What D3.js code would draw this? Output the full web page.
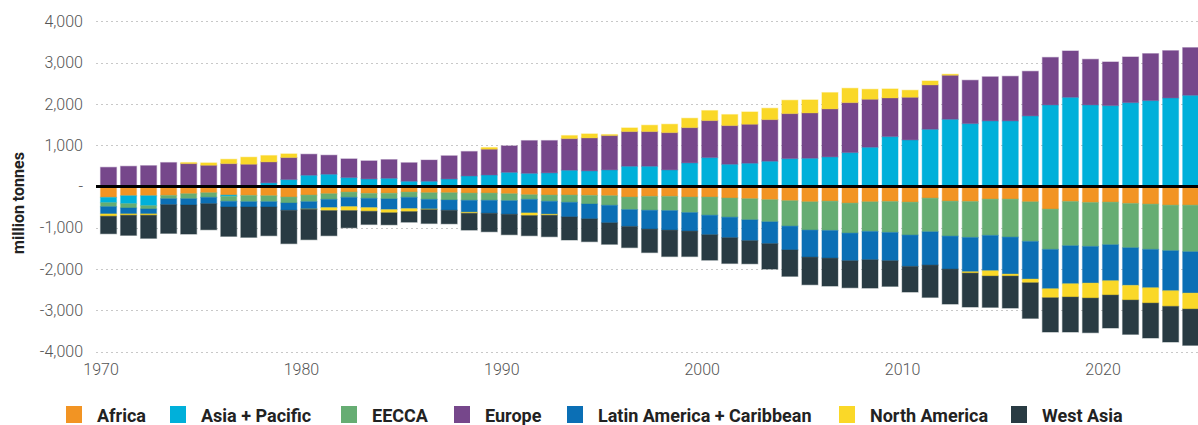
<!DOCTYPE html>
<html>
<head>
<meta charset="utf-8">
<script src="https://cdn.jsdelivr.net/npm/d3@7"></script>
<style>
  html, body { margin: 0; padding: 0; background: #fff; }
  svg { display: block; font-family: Roboto, "Noto Sans", sans-serif; }
</style>
</head>
<body>
<svg id="chart" width="1198" height="425"></svg>
<script>
const years = [1970,1971,1972,1973,1974,1975,1976,1977,1978,1979,
  1980,1981,1982,1983,1984,1985,1986,1987,1988,1989,
  1990,1991,1992,1993,1994,1995,1996,1997,1998,1999,
  2000,2001,2002,2003,2004,2005,2006,2007,2008,2009,
  2010,2011,2012,2013,2014,2015,2016,2017,2018,2019,
  2020,2021,2022,2023,2024];

const africa = [-264,-224,-224,-216,-176,-152,-208,-216,-224,-256,
  -208,-176,-136,-168,-164,-136,-152,-152,-160,-160,
  -176,-200,-208,-208,-216,-224,-256,-240,-240,-256,
  -256,-280,-296,-320,-344,-371,-355,-403,-371,-363,
  -379,-282,-355,-363,-306,-306,-371,-548,-363,-387,
  -379,-411,-427,-452,-452];
const asiaPacific = [-128,-192,-240,0,0,0,-32,0,89,169,
  274,298,218,185,200,128,128,184,256,280,
  344,320,331,395,379,403,492,492,403,573,
  702,540,565,613,677,685,718,823,952,1210,
  1129,1387,1629,1524,1589,1589,1710,1976,2161,1976,
  1960,2032,2081,2145,2210];
const eecca = [-96,-104,-80,-80,-120,-112,-120,-152,-144,-144,
  -160,-136,-128,-120,-136,-128,-160,-176,-176,-176,
  -168,-112,-152,-176,-208,-232,-304,-336,-344,-376,
  -440,-464,-512,-536,-616,-685,-710,-726,-718,-750,
  -798,-815,-847,-871,-879,-920,-960,-976,-1072,-1065,
  -1032,-1073,-1097,-1104,-1129];
const europe = [465,490,505,580,555,515,555,540,508,533,
  508,460,451,436,451,448,512,560,592,624,
  640,792,782,766,798,831,839,839,903,854,
  895,936,943,1008,1089,1097,1161,1209,1161,935,
  1032,1073,1065,1049,1068,1080,1080,1150,1121,1105,
  1056,1105,1137,1145,1153];
const latinAmerica = [-176,-144,-120,-144,-152,-152,-136,-128,-128,-176,
  -176,-200,-224,-224,-260,-272,-232,-248,-288,-312,
  -328,-328,-312,-352,-360,-424,-408,-456,-472,-448,
  -472,-496,-504,-528,-576,-654,-669,-669,-685,-685,
  -758,-806,-798,-831,-855,-895,-911,-952,-920,-887,
  -871,-911,-928,-968,-1000];
const northAmerica = [-56,-32,-32,0,25,57,105,170,153,88,
  -8,-72,-96,-88,-76,-72,-16,0,-24,40,
  0,-64,-24,73,97,24,88,153,202,226,
  242,266,298,274,323,315,395,347,242,218,
  170,96,24,-32,-129,-48,-89,-218,-322,-363,
  -347,-355,-371,-379,-387];
const westAsia = [-424,-488,-560,-696,-704,-632,-712,-736,-696,-808,
  -736,-608,-416,-320,-292,-256,-336,-328,-408,-448,
  -496,-488,-520,-560,-552,-520,-512,-568,-640,-616,
  -616,-624,-560,-616,-640,-669,-677,-654,-686,-621,
  -621,-783,-847,-822,-758,-775,-863,-830,-847,-838,
  -798,-831,-846,-863,-879];

const seriesNames = ["Africa","Asia + Pacific","EECCA","Europe","Latin America + Caribbean","North America","West Asia"];
const seriesValues = [africa, asiaPacific, eecca, europe, latinAmerica, northAmerica, westAsia];
const seriesColors = ["#F29423","#00B0DA","#66AD73","#76478B","#0B6FB5","#FAD828","#293B43"];
const yTicks = [-4000,-3000,-2000,-1000,0,1000,2000,3000,4000];
const xTicks = [1970,1980,1990,2000,2010,2020];

const rows = years.map((yr, i) => {
  const r = { year: yr };
  seriesNames.forEach((n, k) => r[n] = seriesValues[k][i]);
  return r;
});

const svg = d3.select("#chart");
const W = 1198, H = 425;
const plotLeft = 96, plotRight = 1198;

const x = d3.scaleLinear().domain([1970, 2020]).range([100.5, 1102.5]);
const barW = 16;
const y = d3.scaleLinear().domain([-4000, 4000]).range([351.7, 21.3]);
const color = d3.scaleOrdinal().domain(seriesNames).range(seriesColors);

// gridlines
svg.append("g").selectAll("line")
  .data(yTicks.filter(t => t !== 0))
  .join("line")
  .attr("x1", plotLeft).attr("x2", plotRight)
  .attr("y1", d => Math.round(y(d)) + 0.5).attr("y2", d => Math.round(y(d)) + 0.5)
  .attr("stroke", "#c8c8c8").attr("stroke-width", 1.2)
  .attr("stroke-dasharray", "2,3");

// y axis labels
const fmt = d3.format(",");
const yAxis = d3.axisLeft(y).tickValues(yTicks)
  .tickFormat(d => d === 0 ? "-" : (d < 0 ? "-" + fmt(-d) : fmt(d))).tickSize(0).tickPadding(0);
const gy = svg.append("g").attr("transform", "translate(83,0)").call(yAxis);
gy.select(".domain").remove();
gy.selectAll("text").attr("font-size", 16).attr("fill", "#555")
  .attr("font-family", "Roboto, sans-serif").attr("font-weight", 300);

// x axis labels
const xAxis = d3.axisBottom(x).tickValues(xTicks).tickFormat(d3.format("d")).tickSize(0).tickPadding(0);
const gx = svg.append("g").attr("transform", "translate(0,364)").call(xAxis);
gx.select(".domain").remove();
gx.selectAll("text").attr("font-size", 16).attr("fill", "#555")
  .attr("font-family", "Roboto, sans-serif").attr("font-weight", 300);

// y title
svg.append("text")
  .attr("transform", "translate(24,203) rotate(-90)")
  .attr("text-anchor", "middle")
  .attr("font-size", 16).attr("font-weight", 700).attr("fill", "#222")
  .text("million tonnes");

// stacked bars
const stack = d3.stack().keys(seriesNames).offset(d3.stackOffsetDiverging);
const stacked = stack(rows);

svg.append("defs").append("clipPath").attr("id", "plotclip")
  .append("rect").attr("x", plotLeft).attr("y", 0).attr("width", plotRight - plotLeft).attr("height", H);

const barsG = svg.append("g").attr("clip-path", "url(#plotclip)");
barsG.selectAll("g.series")
  .data(stacked)
  .join("g")
  .attr("class", "series")
  .attr("fill", d => color(d.key))
  .attr("stroke", d => color(d.key))
  .selectAll("rect")
  .data(d => d.filter(p => Math.abs(p[1] - p[0]) >= 1))
  .join("rect")
  .attr("x", d => x(d.data.year))
  .attr("width", barW)
  .attr("y", d => y(Math.max(d[0], d[1])))
  .attr("height", d => Math.abs(y(d[0]) - y(d[1])))
  .attr("stroke-opacity", 0.35)
  .attr("stroke-width", 1.2);

// zero line
svg.append("line")
  .attr("x1", plotLeft).attr("x2", plotRight)
  .attr("y1", y(0)).attr("y2", y(0))
  .attr("stroke", "#000").attr("stroke-width", 2.8);

// legend
const legendX = [66, 170, 341, 454, 567, 839, 1011];
const lg = svg.append("g");
seriesNames.forEach((n, i) => {
  const g = lg.append("g").attr("transform", `translate(${legendX[i]},0)`);
  g.append("rect").attr("x", 0).attr("y", 406).attr("width", 16).attr("height", 17)
    .attr("fill", color(n));
  g.append("text").attr("x", 31).attr("y", 422)
    .attr("font-size", 18).attr("font-weight", 700).attr("fill", "#222")
    .text(n);
});
</script>
</body>
</html>
